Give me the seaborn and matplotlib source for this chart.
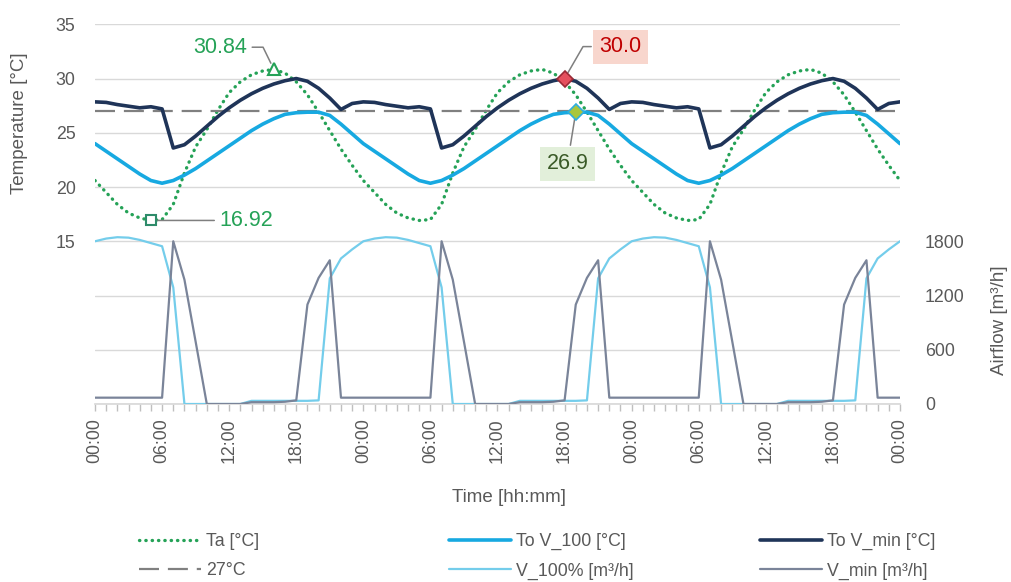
import matplotlib
matplotlib.use("Agg")
import matplotlib.pyplot as plt
import pandas as pd
import seaborn as sns
from matplotlib.ticker import MultipleLocator, FuncFormatter

# hourly values for one day (the three simulated days are identical)
ta_day = [20.6, 19.5, 18.4, 17.6, 17.15, 16.92, 17.0, 18.4, 21.3, 23.7, 25.3, 27.1,
          28.7, 29.7, 30.35, 30.7, 30.84, 30.5, 29.7, 28.5, 26.9, 25.2, 23.5, 22.0]
to_v100_day = [24.0, 23.3, 22.6, 21.9, 21.2, 20.6, 20.35, 20.6, 21.1, 21.7, 22.4, 23.1,
               23.8, 24.5, 25.2, 25.8, 26.3, 26.7, 26.85, 26.9, 26.9, 26.6, 25.8, 24.9]
to_vmin_day = [27.85, 27.8, 27.6, 27.45, 27.3, 27.4, 27.2, 23.6, 23.9, 24.7, 25.6, 26.5,
               27.3, 28.0, 28.6, 29.1, 29.5, 29.8, 30.0, 29.75, 29.1, 28.2, 27.15, 27.7]
v100_day = [1800, 1830, 1845, 1840, 1815, 1780, 1745, 1290, 0, 0, 0, 0,
            0, 0, 35, 35, 35, 35, 35, 35, 40, 1390, 1610, 1710]
vmin_day = [70, 70, 70, 70, 70, 70, 70, 1800, 1375, 690, 0, 0,
            0, 0, 20, 20, 20, 25, 40, 1100, 1395, 1590, 70, 70]
limit = 27

hours = list(range(73))
df = pd.DataFrame({
    "hour": hours,
    "ta": ta_day * 3 + [ta_day[0]],
    "to_v100": to_v100_day * 3 + [to_v100_day[0]],
    "to_vmin": to_vmin_day * 3 + [to_vmin_day[0]],
    "v100": v100_day * 3 + [v100_day[0]],
    "vmin": vmin_day * 3 + [vmin_day[0]],
})

green = "#25A257"
grey_txt = "#595959"

sns.set_theme(style="white")
plt.rcParams["font.family"] = ["Liberation Sans", "DejaVu Sans"]

fig = plt.figure(figsize=(10.12, 5.82), dpi=100)
ax = fig.add_axes([95 / 1012, 1 - 404 / 582, 805 / 1012, (404 - 24.3) / 582])
ax2 = ax.twinx()

sns.lineplot(data=df, x="hour", y="ta", ax=ax, color=green, lw=2.4,
             linestyle=(0, (0.1, 1.8)), dash_capstyle="round", label="Ta [°C]")
ax.axhline(limit, color="#808080", lw=1.6, linestyle=(0, (9, 4)), label="27°C", zorder=2)
sns.lineplot(data=df, x="hour", y="to_v100", ax=ax, color="#17A9E1", lw=2.6,
             label="To V_100 [°C]")
sns.lineplot(data=df, x="hour", y="to_vmin", ax=ax, color="#1F3458", lw=2.6,
             label="To V_min [°C]")
sns.lineplot(data=df, x="hour", y="v100", ax=ax2, color="#74CDEB", lw=1.6,
             label="V_100% [m³/h]")
sns.lineplot(data=df, x="hour", y="vmin", ax=ax2, color="#7A8499", lw=1.6,
             label="V_min [m³/h]")

for a in (ax, ax2):
    if a.get_legend() is not None:
        a.get_legend().remove()
    a.set_xlabel("")
    a.set_ylabel("")

# highlighted points
i_max, i_min, i_vmin, i_v100 = 16, 5, 42, 43
ax.plot(i_max, df.ta[i_max], marker="^", ms=8, mfc="white", mec=green, mew=1.5, ls="none", zorder=6)
ax.plot(i_min, df.ta[i_min], marker="s", ms=7, mfc="white", mec="#2E8B6A", mew=1.5, ls="none", zorder=6)
ax.plot(i_vmin, df.to_vmin[i_vmin], marker="D", ms=8, mfc="#E5505E", mec="#9A2A36", mew=1.2, ls="none", zorder=6)
ax.plot(i_v100, df.to_v100[i_v100], marker="D", ms=8, mfc="#A9C63C", mec="#2EAEE0", mew=1.2, ls="none", zorder=6)

lead = dict(arrowstyle="-", color="#7F7F7F", lw=1.1, shrinkA=1, shrinkB=5)
ax.annotate(f"{df.ta[i_max]:.2f}", xy=(i_max, df.ta[i_max]), xytext=(-19, 16),
            textcoords="offset points", ha="right", va="center", color=green, fontsize=15.5,
            arrowprops=dict(lead, connectionstyle="angle,angleA=0,angleB=116,rad=0"))
ax.annotate(f"{df.ta[i_min]:.2f}", xy=(i_min, df.ta[i_min]), xytext=(49, 0),
            textcoords="offset points", ha="left", va="center", color=green, fontsize=15.5,
            arrowprops=lead)
ax.annotate(f"{df.to_vmin[i_vmin]:.1f}", xy=(i_vmin, df.to_vmin[i_vmin]), xytext=(40, 23),
            textcoords="offset points", ha="center", va="center", color="#C00000", fontsize=15.5,
            bbox=dict(boxstyle="square,pad=0.3", fc="#F8D6CD", ec="none"),
            arrowprops=dict(lead, connectionstyle="angle,angleA=0,angleB=60,rad=0"))
ax.annotate(f"{df.to_v100[i_v100]:.1f}", xy=(i_v100, df.to_v100[i_v100]), xytext=(-6, -37),
            textcoords="offset points", ha="center", va="center", color="#3A5A27", fontsize=15.5,
            bbox=dict(boxstyle="square,pad=0.3", fc="#E2EFDA", ec="none"),
            arrowprops=lead)

# axes styling
ax.set_xlim(0, 72)
ax.set_ylim(0, 35)
ax.set_yticks(range(0, 36, 5))
ax.set_yticklabels(["", "", "", "15", "20", "25", "30", "35"])
ax.grid(axis="y", color="#D9D9D9", lw=1)
ax.grid(axis="x", visible=False)
ax.set_axisbelow(True)
ax.xaxis.set_major_locator(MultipleLocator(6))
ax.xaxis.set_minor_locator(MultipleLocator(1))
ax.xaxis.set_major_formatter(FuncFormatter(lambda v, p: f"{int(v) % 24:02d}:00"))
ax.tick_params(axis="x", which="both", bottom=True, direction="out", length=5,
               color="#BFBFBF", width=1)
ax.tick_params(axis="x", which="major", labelrotation=90, labelsize=12.8,
               labelcolor=grey_txt, pad=5)
ax.tick_params(axis="y", length=0, labelsize=12.8, labelcolor=grey_txt, pad=14)
for s in ("top", "right", "left"):
    ax.spines[s].set_visible(False)
ax.spines["bottom"].set_color("#D9D9D9")

ax2.set_ylim(0, 4200)
ax2.set_yticks([0, 600, 1200, 1800])
ax2.tick_params(axis="y", length=0, labelsize=12.8, labelcolor=grey_txt, pad=18)
for s in ax2.spines.values():
    s.set_visible(False)

fig.text(20 / 1012, 1 - 123 / 582, "Temperature [°C]", rotation=90, ha="center", va="center",
         fontsize=13.5, color=grey_txt)
fig.text(1000 / 1012, 1 - 320 / 582, "Airflow [m³/h]", rotation=90, ha="center", va="center",
         fontsize=13.5, color=grey_txt)
fig.text(509 / 1012, 1 - 497 / 582, "Time [hh:mm]", ha="center", va="center",
         fontsize=13.5, color=grey_txt)

# legend: three columns placed like the original
h1, l1 = ax.get_legend_handles_labels()
h2, l2 = ax2.get_legend_handles_labels()
handles = dict(zip(l1 + l2, h1 + h2))
cols = [["Ta [°C]", "27°C"], ["To V_100 [°C]", "V_100% [m³/h]"], ["To V_min [°C]", "V_min [m³/h]"]]
for x0, names in zip([130, 440, 751], cols):
    fig.legend([handles[n] for n in names], names, loc="upper left",
               bbox_to_anchor=(x0 / 1012, 1 - 524 / 582), frameon=False, borderpad=0,
               handlelength=3.5, handletextpad=0.3, labelspacing=0.7, fontsize=12.8,
               labelcolor=grey_txt)

fig.savefig("out.png", dpi=100)
